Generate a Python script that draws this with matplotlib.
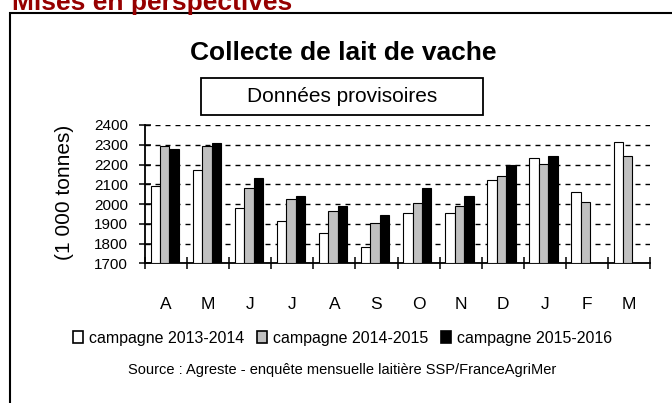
import numpy as np
import matplotlib
matplotlib.use('Agg')
import matplotlib.pyplot as plt
from matplotlib.patches import Patch, Rectangle

plt.rcParams['font.family'] = ['Liberation Sans', 'DejaVu Sans']

months = ['A', 'M', 'J', 'J', 'A', 'S', 'O', 'N', 'D', 'J', 'F', 'M']
series_names = ['campagne 2013-2014', 'campagne 2014-2015', 'campagne 2015-2016']
c2013 = [2090, 2172, 1978, 1914, 1852, 1782, 1956, 1956, 2122, 2231, 2059, 2316]
c2014 = [2295, 2294, 2080, 2025, 1966, 1905, 2007, 1990, 2142, 2203, 2008, 2245]
c2015 = [2277, 2307, 2130, 2041, 1988, 1944, 2080, 2041, 2198, 2245, np.nan, np.nan]
yticks = [1700, 1800, 1900, 2000, 2100, 2200, 2300, 2400]

W, H = 672, 403
fig = plt.figure(figsize=(W / 100, H / 100), dpi=100)

# outer frame (runs off the right and bottom edges)
fig.patches.append(Rectangle((10 / W, -0.2), 2, 1 - 13 / H + 0.2, transform=fig.transFigure,
                             fill=False, edgecolor='black', lw=1.5))
# header, partly cut off at the top like in the source page
fig.text(12 / W, 1 - 10 / H, 'Mises en perspectives', fontsize=19, fontweight='bold',
         color='#960000', va='baseline', ha='left')

fig.text(343 / W, 1 - 53 / H, 'Collecte de lait de vache', fontsize=19, fontweight='bold',
         ha='center', va='center')
fig.patches.append(Rectangle((201 / W, 1 - 115 / H), 282 / W, 37 / H, transform=fig.transFigure,
                             fill=False, edgecolor='black', lw=1.3))
fig.text(342 / W, 1 - 96 / H, 'Données provisoires', fontsize=15, ha='center', va='center')

ax = fig.add_axes([145 / W, 1 - 263.3 / H, (650 - 145) / W, (263.3 - 125) / H])
x = np.arange(len(months))
w = 0.224
sh = -0.03
colors = ['white', '#c0c0c0', 'black']
for i, (vals, c) in enumerate(zip([c2013, c2014, c2015], colors)):
    ax.bar(x + (i - 1) * w + sh, np.array(vals) - 1700, width=w, bottom=1700,
           color=c, edgecolor='black', lw=0.8, zorder=3)

ax.set_xlim(-0.5, 11.5)
ax.set_ylim(1700, 2400)
ax.set_yticks(yticks)
ax.set_yticklabels([str(v) for v in yticks], fontsize=11)
ax.yaxis.grid(True, color='black', lw=1.0, dashes=(3.6, 3.6), zorder=0)
ax.set_xticks(x)
ax.set_xticklabels(months, fontsize=12.5)
ax.set_xticks(np.arange(-0.5, 12, 1), minor=True)
ax.tick_params(axis='x', which='major', length=0, pad=24)
ax.tick_params(axis='x', which='minor', direction='inout', length=8, width=1.1)
ax.tick_params(axis='y', direction='inout', length=8.6, width=1.1, pad=8)
for s in ['top', 'right']:
    ax.spines[s].set_visible(False)
for s in ['left', 'bottom']:
    ax.spines[s].set_linewidth(1.3)

fig.text(65 / W, 1 - 192 / H, '(1 000 tonnes)', fontsize=15, rotation=90,
         ha='center', va='center')

handles = [Patch(facecolor=c, edgecolor='black', lw=1.2) for c in colors]
fig.legend(handles, series_names, loc='center', bbox_to_anchor=(342.5 / W, 1 - 338 / H),
           ncol=3, frameon=False, fontsize=11.5, handlelength=0.65, handleheight=0.7,
           handletextpad=0.4, columnspacing=0.75, borderpad=0)

fig.text(342.5 / W, 1 - 370 / H, 'Source : Agreste - enquête mensuelle laitière SSP/FranceAgriMer',
         fontsize=10.5, ha='center', va='center')

fig.savefig('out.png', dpi=100)
